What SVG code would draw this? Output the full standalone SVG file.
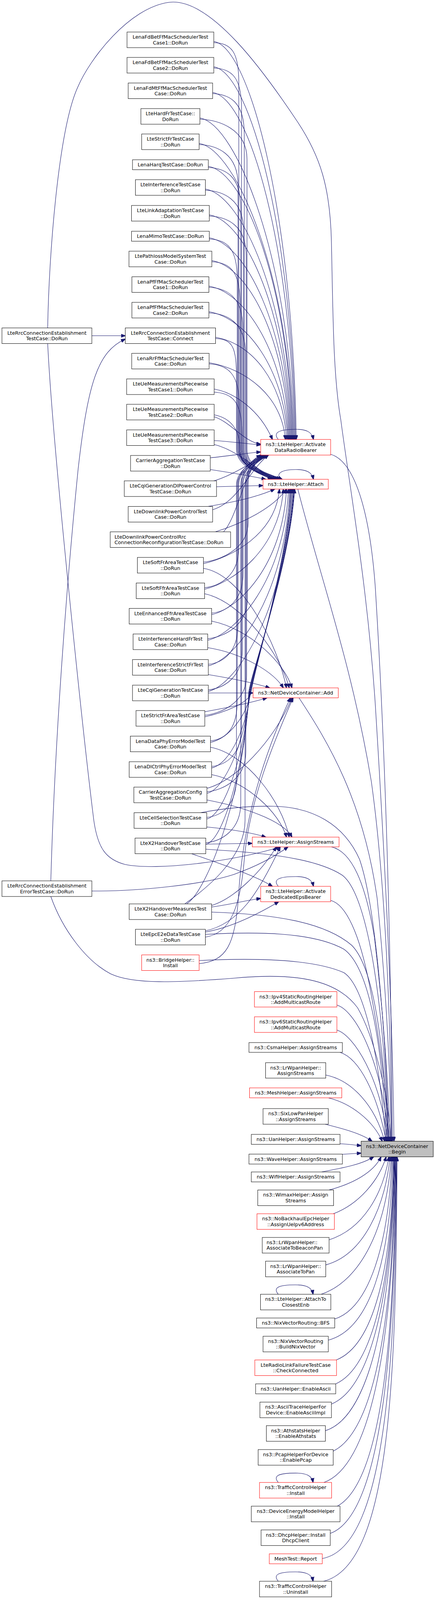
<svg xmlns="http://www.w3.org/2000/svg" width="1113" height="4180" viewBox="0 0 1113 4180">
<defs>
<marker id="ah" viewBox="0 0 12 9" refX="11" refY="4.5" markerWidth="12" markerHeight="9" markerUnits="userSpaceOnUse" orient="auto"><path d="M0,0 L12,4.5 L0,9 Z" fill="#191970" stroke="#191970"/></marker>
</defs>
<style>
.n rect{fill:#fff;stroke:#000;stroke-width:1}
.nr rect{fill:#fff;stroke:#f00;stroke-width:1}
.tg rect{fill:#bfbfbf;stroke:#000;stroke-width:1}
text{font-family:"DejaVu Sans","Liberation Sans",sans-serif;font-size:12.7px;text-anchor:middle;fill:#000}
text.l{text-anchor:start}
#edges path{fill:none;stroke:#191970;stroke-width:1.1;marker-end:url(#ah)}
</style>
<rect width="1113" height="4180" fill="#fff"/>
<g id="edges">
<path d="M547,106 C642,122 750,559 758,1125"/>
<path d="M547,171 C642,187 748,598 756,1125"/>
<path d="M544,236.5 C639,252 746,634 754,1125"/>
<path d="M511.5,302 C606.5,318 744,670 752,1125"/>
<path d="M509.5,367 C604.5,383 742,706 750,1125"/>
<path d="M533,425.75 C628,441.75 740,738 748,1125"/>
<path d="M525.5,484 C620.5,500 738,770 746,1125"/>
<path d="M535.5,550 C630.5,566 736,807 744,1125"/>
<path d="M535.5,608.75 C630.5,624.75 734,839 742,1125"/>
<path d="M542,667 C637,683 732,871 740,1125"/>
<path d="M534.5,732.5 C629.5,748.5 730,907 738,1125"/>
<path d="M534.5,798 C629.5,814 728,943 736,1125"/>
<path d="M551.5,863.5 C646.5,879.5 725,979 733,1125"/>
<path d="M535,928.5 C630,944.5 722,1015 730,1125"/>
<path d="M547,109 C592,111 611,132 611,212 L611,1150 C611,1195 662,1210 702,1227"/>
<path d="M547,174 C592,176 618,197 618,277 L618,1150 C618,1195 667,1210 707,1227"/>
<path d="M544,239.5 C589,241.5 625,262.5 625,342.5 L625,1150 C625,1195 672,1210 712,1227"/>
<path d="M511.5,305 C556.5,307 632,328 632,408 L632,1150 C632,1195 677,1210 717,1227"/>
<path d="M509.5,370 C554.5,372 609,393 609,473 L609,1150 C609,1195 682,1210 722,1227"/>
<path d="M533,428.75 C578,430.75 616,451.75 616,531.75 L616,1150 C616,1195 657,1210 697,1227"/>
<path d="M525.5,487 C570.5,489 623,510 623,590 L623,1150 C623,1195 662,1210 702,1227"/>
<path d="M535.5,553 C580.5,555 630,576 630,656 L630,1150 C630,1195 667,1210 707,1227"/>
<path d="M535.5,611.75 C580.5,613.75 607,634.75 607,714.75 L607,1150 C607,1195 672,1210 712,1227"/>
<path d="M542,670 C587,672 614,693 614,773 L614,1150 C614,1195 677,1210 717,1227"/>
<path d="M534.5,735.5 C579.5,737.5 621,758.5 621,838.5 L621,1150 C621,1195 682,1210 722,1227"/>
<path d="M534.5,801 C579.5,803 628,824 628,904 L628,1150 C628,1195 657,1210 697,1227"/>
<path d="M551.5,866.5 C596.5,868.5 605,889.5 605,969.5 L605,1150 C605,1195 662,1210 702,1227"/>
<path d="M535,931.5 C580,933.5 612,954.5 612,1034.5 L612,1150 C612,1195 667,1210 707,1227"/>
<path d="M548,1004 C593,1006 619,1027 619,1107 L619,1150 C619,1195 672,1210 712,1227"/>
<path d="M548,996 C600,1005 665,1050 697,1125"/>
<path d="M548,1067 C590,1080 625,1132 667,1137"/>
<path d="M548,1062 C590,1070 614,1100 614,1150 C614,1195 660,1212 697,1227"/>
<path d="M548,1128 C590,1130 630,1136 667,1139"/>
<path d="M548,1138 C600,1150 660,1200 695,1227"/>
<path d="M538,1172 C580,1168 630,1160 667,1157"/>
<path d="M538,1202 C590,1210 640,1218 680,1227"/>
<path d="M547,1231 C580,1222 640,1190 672,1165"/>
<path d="M554,1246 C600,1245 640,1244 673,1243"/>
<path d="M532,1296.5 C600,1285 660,1272 703,1252"/>
<path d="M544,1305 C610,1285 640,1200 687,1165"/>
<path d="M551,1361.5 C620,1340 700,1300 733,1252"/>
<path d="M572,1361.5 C610,1320 625,1195 677,1165"/>
<path d="M520.5,1439 C560.5,1435 635,1407 635,1337 L635,1240 C635,1205 647,1182 677,1165"/>
<path d="M523.5,1504.5 C563.5,1500.5 611,1472.5 611,1402.5 L611,1240 C611,1205 652,1182 682,1165"/>
<path d="M541.5,1569.5 C581.5,1565.5 622,1537.5 622,1467.5 L622,1240 C622,1205 657,1182 687,1165"/>
<path d="M531.5,1635 C571.5,1631 633,1603 633,1533 L633,1240 C633,1205 637,1182 667,1165"/>
<path d="M533,1700.5 C573,1696.5 609,1668.5 609,1598.5 L609,1240 C609,1205 642,1182 672,1165"/>
<path d="M533,1766 C573,1762 620,1734 620,1664 L620,1240 C620,1205 647,1182 677,1165"/>
<path d="M524,1831 C564,1827 631,1799 631,1729 L631,1240 C631,1205 652,1182 682,1165"/>
<path d="M538.5,1896.5 C578.5,1892.5 607,1864.5 607,1794.5 L607,1240 C607,1205 657,1182 687,1165"/>
<path d="M541.5,1962 C581.5,1958 618,1930 618,1860 L618,1240 C618,1205 637,1182 667,1165"/>
<path d="M529.5,2027 C569.5,2023 629,1995 629,1925 L629,1240 C629,1205 642,1182 672,1165"/>
<path d="M529,2092.5 C569,2088.5 605,2060.5 605,1990.5 L605,1240 C605,1205 647,1182 677,1165"/>
<path d="M526.5,2157.5 C566.5,2153.5 616,2125.5 616,2055.5 L616,1240 C616,1205 652,1182 682,1165"/>
<path d="M473,2314 C520,2280 627,2200 627,2100 L627,1240 C627,1205 657,1182 687,1165"/>
<path d="M520.5,1443 C590.5,1427 705,1369 715,1252"/>
<path d="M523.5,1508.5 C593.5,1492.5 715,1408 725,1252"/>
<path d="M541.5,1573.5 C611.5,1557.5 723,1447 733,1252"/>
<path d="M531.5,1639 C601.5,1623 728,1487 738,1252"/>
<path d="M533,1704.5 C603,1688.5 731,1526 741,1252"/>
<path d="M533,1770 C603,1754 733,1565 743,1252"/>
<path d="M524,1835 C574,1824 634,1800.6 642,1775 C648,1720 733,1450 745,1252"/>
<path d="M538.5,1900.5 C588.5,1889.5 633,1827 641,1775 C647,1720 735,1450 747,1252"/>
<path d="M541.5,1966 C591.5,1955 632,1853 640,1775 C646,1720 737,1450 749,1252"/>
<path d="M529.5,2031 C579.5,2020 631,1879 639,1775 C645,1720 739,1450 751,1252"/>
<path d="M529,2096.5 C579,2085.5 630,1905 638,1775 C644,1720 740,1450 752,1252"/>
<path d="M526.5,2161.5 C576.5,2150.5 629,1931 637,1775 C643,1720 741,1450 753,1252"/>
<path d="M478,2314 C540,2270 628,2000 636,1775 C642,1720 742,1450 754,1252"/>
<path d="M520.5,1455 C620,1470 710,1650 733,1761"/>
<path d="M523.5,1520 C620,1540 720,1680 740,1761"/>
<path d="M541.5,1590 C640,1610 730,1700 747,1761"/>
<path d="M531.5,1658 C620,1672 700,1720 725,1761"/>
<path d="M533,1727 C600,1738 650,1748 690,1761"/>
<path d="M533,1774 L647.5,1774"/>
<path d="M524,1822 C580,1812 640,1800 683,1786.5"/>
<path d="M538.5,1913 C630,1930 720,2050 740,2143"/>
<path d="M541.5,1983 C630,2000 715,2080 733,2143"/>
<path d="M529.5,2018 C600,2000 700,1900 747,1786.5"/>
<path d="M529.5,2048 C620,2065 725,2100 747,2143"/>
<path d="M528.5,2117 C580,2122 640,2130 680,2143"/>
<path d="M526.5,2161 L645.5,2159"/>
<path d="M490,2185.5 C560,2210 650,2240 697,2269"/>
<path d="M541.5,2318 C600,2300 670,2230 707,2168"/>
<path d="M541.5,2322 C590,2315 630,2305 667,2300"/>
<path d="M525.5,2383 C610,2365 660,2290 717,2168"/>
<path d="M525.5,2386 C590,2375 660,2340 713,2308.5"/>
<path d="M525.5,2399 C590,2390 615,2320 625,2200 C638,2050 700,1900 750,1786.5"/>
<path d="M509.5,2467 C580,2460 600,2420 610,2300 C620,2100 680,1920 743,1786.5"/>
<path d="M235,859.5 L320.5,859.5"/>
<path d="M130,2255 C140,1900 170,1500 200,1200 C225,980 250,900 320.5,868"/>
<path d="M122,879.5 C135,1150 215,1900 240,2100 C250,2170 270,2200 320,2213 C400,2230 600,2205 717,2168"/>
<path d="M235,2281 C350,2282 520,2265 600,2238 C650,2220 700,2195 737,2168"/>
<path d="M122,839.5 C125,650 150,330 199,223 C230,150 330,20 432,6 C540,-8 680,190 760,310 C820,400 845,480 848,620 C852,800 852,960 872,1075 C895,1250 940,1500 960,1800 C985,2200 1005,2600 1008,2921.5"/>
<path d="M130,2295 C160,2380 220,2460 283,2493 C340,2520 450,2516 600,2504 C750,2490 860,2505 915,2580 C955,2650 995,2800 1000,2921.5"/>
<path d="M846,1163 C905,1180 945,1300 960,1500 C985,1900 1000,2400 1004,2921.5"/>
<path d="M762,1252 C820,1480 900,1700 950,2000 C985,2250 1000,2600 1002,2921.5"/>
<path d="M765,1786.5 C840,1900 930,2050 965,2300 C985,2500 998,2700 1001,2921.5"/>
<path d="M848,2168 C900,2180 935,2260 958,2400 C982,2600 995,2800 998,2921.5"/>
<path d="M846,2305 C885,2315 920,2390 945,2520 C970,2650 990,2800 996,2921.5"/>
<path d="M513,2080.5 C580,2068 640,2063 700,2064 C800,2066 880,2110 920,2200 C965,2330 990,2700 994,2921.5"/>
<path d="M526.5,2174 C650,2182 800,2192 875,2240 C945,2290 985,2600 993,2921.5"/>
<path d="M541.5,2335 C700,2340 830,2360 900,2420 C960,2480 985,2700 991,2921.5"/>
<path d="M525.5,2392 C650,2385 800,2385 880,2430 C950,2480 980,2700 989,2921.5"/>
<path d="M509.5,2459 C650,2452 800,2455 880,2490 C940,2530 975,2750 987,2921.5"/>
<path d="M862,2573 C905,2585 975,2700 995,2921.5"/>
<path d="M862,2637 C905,2650 975,2760 992,2921.5"/>
<path d="M870,2694 C920,2710 965,2800 988,2921.5"/>
<path d="M833,2752 C900,2765 960,2830 984,2921.5"/>
<path d="M840,2810.5 C900,2825 955,2870 978,2921.5"/>
<path d="M832,2878 C880,2890 925,2902 952,2921.5"/>
<path d="M870,2928 C890,2929 905,2931 924,2933"/>
<path d="M876,2955 C893,2954 908,2953 924,2952"/>
<path d="M823,3000.2 C870,2991 925,2982 956,2961.5"/>
<path d="M842,3046.4 C900,3031 955,3003 975,2961.5"/>
<path d="M853,3107.2 C920,3082 970,3020 988,2961.5"/>
<path d="M842,3173.9 C930,3146 980,3055 995,2961.5"/>
<path d="M833.5,3238.1 C930,3212 985,3090 998,2961.5"/>
<path d="M822,3313.3 C925,3278 990,3140 1001,2961.5"/>
<path d="M856.5,3376.6 C945,3348 995,3185 1003,2961.5"/>
<path d="M840,3430.8 C945,3403 1000,3230 1005,2961.5"/>
<path d="M860.5,3481.5 C955,3444 1003,3255 1007,2961.5"/>
<path d="M859,3542.7 C955,3500 1004,3275 1008,2961.5"/>
<path d="M848,3594.4 C955,3550 1005,3290 1009,2961.5"/>
<path d="M832,3662.7 C955,3625 1006,3315 1010,2961.5"/>
<path d="M852.5,3714.9 C965,3660 1008,3340 1011,2961.5"/>
<path d="M829,3795.1 C965,3745 1009,3355 1012,2961.5"/>
<path d="M863,3855.8 C985,3790 1010,3370 1013,2961.5"/>
<path d="M845,3925.6 C985,3875 1011,3395 1014,2961.5"/>
<path d="M824.5,3989.8 C995,3960 1012,3440 1015,2961.5"/>
<path d="M828,4048 C1005,4005 1013,3490 1016,2961.5"/>
<path d="M712,1125 C698,1108 712,1099 757,1099 C785,1099 798,1106 802,1125"/>
<path d="M718,1227 C705,1212 720,1202 757,1202 C785,1202 798,1209 802,1227"/>
<path d="M712,2269 C698,2252 712,2244 757,2244 C785,2244 798,2251 802,2269"/>
<path d="M712,3313.3 C698,3296.3 712,3289.3 756,3289.3 C785,3289.3 798,3296.3 801,3313.3"/>
<path d="M712,3795.1 C698,3778.1 712,3771.1 756,3771.1 C785,3771.1 798,3778.1 801,3795.1"/>
<path d="M712,4048 C698,4031 712,4024 756,4024 C785,4024 798,4031 801,4048"/>
</g>
<g id="m1" class="n"><rect x="325" y="82" width="222" height="40"/><text x="436" y="99">LenaFdBetFfMacSchedulerTest</text><text x="436" y="113.5">Case1::DoRun</text></g>
<g id="m2" class="n"><rect x="325" y="147" width="222" height="40"/><text x="436" y="164">LenaFdBetFfMacSchedulerTest</text><text x="436" y="178.5">Case2::DoRun</text></g>
<g id="m3" class="n"><rect x="328" y="212.5" width="216" height="40"/><text x="436" y="229.5">LenaFdMtFfMacSchedulerTest</text><text x="436" y="244">Case::DoRun</text></g>
<g id="m4" class="n"><rect x="360.5" y="278" width="151" height="40"/><text x="436" y="295">LteHardFrTestCase::</text><text x="436" y="309.5">DoRun</text></g>
<g id="m5" class="n"><rect x="362.5" y="343" width="147" height="40"/><text x="436" y="360">LteStrictFrTestCase</text><text x="436" y="374.5">::DoRun</text></g>
<g id="m6" class="n"><rect x="339" y="409" width="194" height="25.5"/><text x="436" y="426">LenaHarqTestCase::DoRun</text></g>
<g id="m7" class="n"><rect x="346.5" y="460" width="179" height="40"/><text x="436" y="477">LteInterferenceTestCase</text><text x="436" y="491.5">::DoRun</text></g>
<g id="m8" class="n"><rect x="336.5" y="526" width="199" height="40"/><text x="436" y="543">LteLinkAdaptationTestCase</text><text x="436" y="557.5">::DoRun</text></g>
<g id="m9" class="n"><rect x="336.5" y="592" width="199" height="25.5"/><text x="436" y="609">LenaMimoTestCase::DoRun</text></g>
<g id="m10" class="n"><rect x="330" y="643" width="212" height="40"/><text x="436" y="660">LtePathlossModelSystemTest</text><text x="436" y="674.5">Case::DoRun</text></g>
<g id="m11" class="n"><rect x="337.5" y="708.5" width="197" height="40"/><text x="436" y="725.5">LenaPfFfMacSchedulerTest</text><text x="436" y="740">Case1::DoRun</text></g>
<g id="m12" class="n"><rect x="337.5" y="774" width="197" height="40"/><text x="436" y="791">LenaPfFfMacSchedulerTest</text><text x="436" y="805.5">Case2::DoRun</text></g>
<g id="m13" class="n"><rect x="320.5" y="839.5" width="231" height="40"/><text x="436" y="856.5">LteRrcConnectionEstablishment</text><text x="436" y="871">TestCase::Connect</text></g>
<g id="m14" class="n"><rect x="337" y="904.5" width="198" height="40"/><text x="436" y="921.5">LenaRrFfMacSchedulerTest</text><text x="436" y="936">Case::DoRun</text></g>
<g id="m15" class="n"><rect x="324" y="970" width="224" height="40"/><text x="436" y="987">LteUeMeasurementsPiecewise</text><text x="436" y="1001.5">TestCase1::DoRun</text></g>
<g id="m16" class="n"><rect x="324" y="1035" width="224" height="40"/><text x="436" y="1052">LteUeMeasurementsPiecewise</text><text x="436" y="1066.5">TestCase2::DoRun</text></g>
<g id="m17" class="n"><rect x="324" y="1100.5" width="224" height="40"/><text x="436" y="1117.5">LteUeMeasurementsPiecewise</text><text x="436" y="1132">TestCase3::DoRun</text></g>
<g id="m18" class="n"><rect x="334" y="1166" width="204" height="40"/><text x="436" y="1183">CarrierAggregationTestCase</text><text x="436" y="1197.5">::DoRun</text></g>
<g id="m19" class="n"><rect x="318" y="1231" width="236" height="40"/><text x="436" y="1248">LteCqiGenerationDlPowerControl</text><text x="436" y="1262.5">TestCase::DoRun</text></g>
<g id="m20" class="n"><rect x="328" y="1296.5" width="216" height="40"/><text x="436" y="1313.5">LteDownlinkPowerControlTest</text><text x="436" y="1328">Case::DoRun</text></g>
<g id="m21" class="n"><rect x="282" y="1361.5" width="308" height="40"/><text class="l" x="293" y="1378.5">LteDownlinkPowerControlRrc</text><text class="l" x="293" y="1393">ConnectionReconfigurationTestCase::DoRun</text></g>
<g id="m22" class="n"><rect x="351.5" y="1427" width="169" height="40"/><text x="436" y="1444">LteSoftFrAreaTestCase</text><text x="436" y="1458.5">::DoRun</text></g>
<g id="m23" class="n"><rect x="348.5" y="1492.5" width="175" height="40"/><text x="436" y="1509.5">LteSoftFfrAreaTestCase</text><text x="436" y="1524">::DoRun</text></g>
<g id="m24" class="n"><rect x="330.5" y="1557.5" width="211" height="40"/><text x="436" y="1574.5">LteEnhancedFfrAreaTestCase</text><text x="436" y="1589">::DoRun</text></g>
<g id="m25" class="n"><rect x="340.5" y="1623" width="191" height="40"/><text x="436" y="1640">LteInterferenceHardFrTest</text><text x="436" y="1654.5">Case::DoRun</text></g>
<g id="m26" class="n"><rect x="339" y="1688.5" width="194" height="40"/><text x="436" y="1705.5">LteInterferenceStrictFrTest</text><text x="436" y="1720">Case::DoRun</text></g>
<g id="m27" class="n"><rect x="339" y="1754" width="194" height="40"/><text x="436" y="1771">LteCqiGenerationTestCase</text><text x="436" y="1785.5">::DoRun</text></g>
<g id="m28" class="n"><rect x="348" y="1819" width="176" height="40"/><text x="436" y="1836">LteStrictFrAreaTestCase</text><text x="436" y="1850.5">::DoRun</text></g>
<g id="m29" class="n"><rect x="333.5" y="1884.5" width="205" height="40"/><text x="436" y="1901.5">LenaDataPhyErrorModelTest</text><text x="436" y="1916">Case::DoRun</text></g>
<g id="m30" class="n"><rect x="330.5" y="1950" width="211" height="40"/><text x="436" y="1967">LenaDlCtrlPhyErrorModelTest</text><text x="436" y="1981.5">Case::DoRun</text></g>
<g id="m31" class="n"><rect x="342.5" y="2015" width="187" height="40"/><text x="436" y="2032">CarrierAggregationConfig</text><text x="436" y="2046.5">TestCase::DoRun</text></g>
<g id="m32" class="n"><rect x="343" y="2080.5" width="186" height="40"/><text x="436" y="2097.5">LteCellSelectionTestCase</text><text x="436" y="2112">::DoRun</text></g>
<g id="m33" class="n"><rect x="345.5" y="2145.5" width="181" height="40"/><text x="436" y="2162.5">LteX2HandoverTestCase</text><text x="436" y="2177">::DoRun</text></g>
<g id="m34" class="n"><rect x="330.5" y="2314" width="211" height="40"/><text x="436" y="2331">LteX2HandoverMeasuresTest</text><text x="436" y="2345.5">Case::DoRun</text></g>
<g id="m35" class="n"><rect x="346.5" y="2379" width="179" height="40"/><text x="436" y="2396">LteEpcE2eDataTestCase</text><text x="436" y="2410.5">::DoRun</text></g>
<g id="m36" class="nr"><rect x="362.5" y="2444.5" width="147" height="40"/><text x="436" y="2461.5">ns3::BridgeHelper::</text><text x="436" y="2476">Install</text></g>
<g id="L1" class="n"><rect x="5" y="839.5" width="230" height="40"/><text x="120" y="856.5">LteRrcConnectionEstablishment</text><text x="120" y="871">TestCase::DoRun</text></g>
<g id="L2" class="n"><rect x="5" y="2255" width="230" height="40"/><text x="120" y="2272">LteRrcConnectionEstablishment</text><text x="120" y="2286.5">ErrorTestCase::DoRun</text></g>
<g id="r1" class="nr"><rect x="667" y="1125" width="179" height="40"/><text x="756.5" y="1142">ns3::LteHelper::Activate</text><text x="756.5" y="1156.5">DataRadioBearer</text></g>
<g id="r2" class="nr"><rect x="673" y="1227" width="167" height="25"/><text x="756.5" y="1244">ns3::LteHelper::Attach</text></g>
<g id="r3" class="nr"><rect x="647.5" y="1761" width="218" height="25.5"/><text x="756.5" y="1778">ns3::NetDeviceContainer::Add</text></g>
<g id="r4" class="nr"><rect x="645.5" y="2143" width="222" height="25"/><text x="756.5" y="2160">ns3::LteHelper::AssignStreams</text></g>
<g id="r5" class="nr"><rect x="667" y="2269" width="179" height="39.5"/><text x="756.5" y="2286">ns3::LteHelper::Activate</text><text x="756.5" y="2300.5">DedicatedEpsBearer</text></g>
<g id="r6" class="nr"><rect x="651" y="2538.5" width="211" height="39.5"/><text x="756.5" y="2555.5">ns3::Ipv4StaticRoutingHelper</text><text x="756.5" y="2570">::AddMulticastRoute</text></g>
<g id="r7" class="nr"><rect x="651" y="2603" width="211" height="40"/><text x="756.5" y="2620">ns3::Ipv6StaticRoutingHelper</text><text x="756.5" y="2634.5">::AddMulticastRoute</text></g>
<g id="r8" class="n"><rect x="637" y="2669" width="239" height="25"/><text x="756.5" y="2686">ns3::CsmaHelper::AssignStreams</text></g>
<g id="r9" class="n"><rect x="679.5" y="2720.5" width="154" height="39.5"/><text x="756.5" y="2737.5">ns3::LrWpanHelper::</text><text x="756.5" y="2752">AssignStreams</text></g>
<g id="r10" class="nr"><rect x="638.5" y="2785" width="236" height="25.5"/><text x="756.5" y="2802">ns3::MeshHelper::AssignStreams</text></g>
<g id="r11" class="n"><rect x="673" y="2838" width="167" height="40"/><text x="756.5" y="2855">ns3::SixLowPanHelper</text><text x="756.5" y="2869.5">::AssignStreams</text></g>
<g id="r12" class="n"><rect x="643" y="2904" width="227" height="25.5"/><text x="756.5" y="2921">ns3::UanHelper::AssignStreams</text></g>
<g id="r13" class="n"><rect x="637" y="2954.5" width="239" height="25.5"/><text x="756.5" y="2971.5">ns3::WaveHelper::AssignStreams</text></g>
<g id="r14" class="n"><rect x="643" y="3000.2" width="227" height="25.5"/><text x="756.5" y="3017.2">ns3::WifiHelper::AssignStreams</text></g>
<g id="r15" class="n"><rect x="659.5" y="3046.4" width="194" height="40"/><text x="756.5" y="3063.4">ns3::WimaxHelper::Assign</text><text x="756.5" y="3077.9">Streams</text></g>
<g id="r16" class="nr"><rect x="657.5" y="3107.2" width="198" height="40"/><text x="756.5" y="3124.2">ns3::NoBackhaulEpcHelper</text><text x="756.5" y="3138.7">::AssignUeIpv6Address</text></g>
<g id="r17" class="n"><rect x="671" y="3167.9" width="171" height="40"/><text class="l" x="682" y="3184.9">ns3::LrWpanHelper::</text><text class="l" x="682" y="3199.4">AssociateToBeaconPan</text></g>
<g id="r18" class="n"><rect x="679.5" y="3228.6" width="154" height="40"/><text x="756.5" y="3245.6">ns3::LrWpanHelper::</text><text x="756.5" y="3260.1">AssociateToPan</text></g>
<g id="r19" class="n"><rect x="666.5" y="3313.3" width="180" height="40"/><text x="756.5" y="3330.3">ns3::LteHelper::AttachTo</text><text x="756.5" y="3344.8">ClosestEnb</text></g>
<g id="r20" class="n"><rect x="656.5" y="3374.1" width="200" height="25.5"/><text x="756.5" y="3391.1">ns3::NixVectorRouting::BFS</text></g>
<g id="r21" class="n"><rect x="673" y="3420.8" width="167" height="40"/><text x="756.5" y="3437.8">ns3::NixVectorRouting</text><text x="756.5" y="3452.3">::BuildNixVector</text></g>
<g id="r22" class="nr"><rect x="652" y="3481.5" width="209" height="40"/><text x="756.5" y="3498.5">LteRadioLinkFailureTestCase</text><text x="756.5" y="3513">::CheckConnected</text></g>
<g id="r23" class="n"><rect x="654" y="3542.7" width="205" height="25.5"/><text x="756.5" y="3559.7">ns3::UanHelper::EnableAscii</text></g>
<g id="r24" class="n"><rect x="665" y="3589.4" width="183" height="40"/><text x="756.5" y="3606.4">ns3::AsciiTraceHelperFor</text><text x="756.5" y="3620.9">Device::EnableAsciiImpl</text></g>
<g id="r25" class="n"><rect x="681.5" y="3649.7" width="151" height="40"/><text x="756.5" y="3666.7">ns3::AthstatsHelper</text><text x="756.5" y="3681.2">::EnableAthstats</text></g>
<g id="r26" class="n"><rect x="660.5" y="3710.9" width="192" height="40"/><text x="756.5" y="3727.9">ns3::PcapHelperForDevice</text><text x="756.5" y="3742.4">::EnablePcap</text></g>
<g id="r27" class="nr"><rect x="664" y="3795.1" width="184.5" height="40"/><text x="756.5" y="3812.1">ns3::TrafficControlHelper</text><text x="756.5" y="3826.6">::Install</text></g>
<g id="r28" class="n"><rect x="643" y="3855.8" width="227" height="40"/><text x="756.5" y="3872.8">ns3::DeviceEnergyModelHelper</text><text x="756.5" y="3887.3">::Install</text></g>
<g id="r29" class="n"><rect x="668" y="3916.6" width="177" height="40"/><text x="756.5" y="3933.6">ns3::DhcpHelper::Install</text><text x="756.5" y="3948.1">DhcpClient</text></g>
<g id="r30" class="nr"><rect x="689" y="3977.8" width="135.5" height="25.5"/><text x="756.5" y="3994.8">MeshTest::Report</text></g>
<g id="r31" class="n"><rect x="664" y="4048" width="184.5" height="40"/><text x="756.5" y="4065">ns3::TrafficControlHelper</text><text x="756.5" y="4079.5">::Uninstall</text></g>
<g id="target" class="tg"><rect x="924" y="2921.5" width="184.5" height="40"/><text x="1016" y="2938.5">ns3::NetDeviceContainer</text><text x="1016" y="2953">::Begin</text></g>
</svg>
